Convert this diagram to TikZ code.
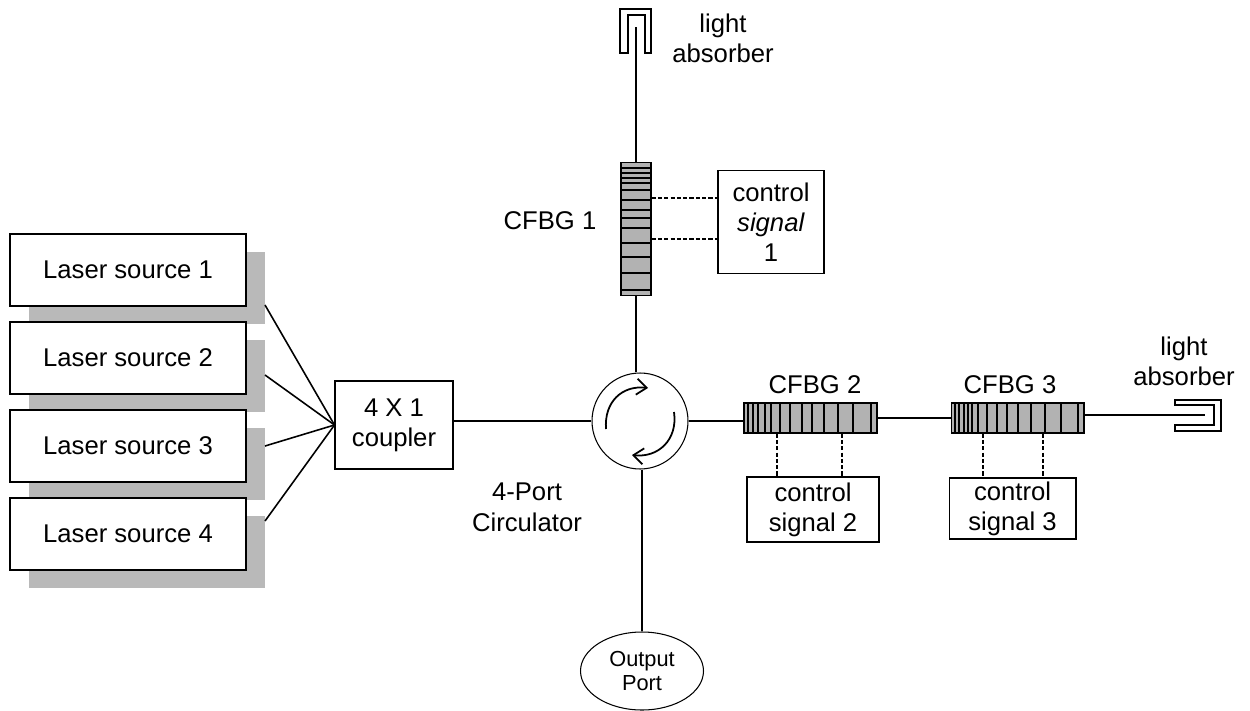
\documentclass[tikz,border=0pt]{standalone}
\usepackage{fontspec}
\setmainfont{Liberation Sans}
\usetikzlibrary{shapes.geometric, arrows.meta}
\tikzset{
    box/.style={draw, fill=white, semithick, align=center, inner sep=0pt, font=\fontsize{14.6}{17}\selectfont},
    laser/.style={box, minimum width=4.72cm, minimum height=1.44cm},
    lasershadow/.style={fill=gray!55, inner sep=0pt, minimum width=4.74cm, minimum height=1.44cm},
    signalbox/.style={box},
    grating/.style={draw, fill=gray!60, semithick, inner sep=0pt},
    stripe/.style={line width=0.8pt},
    caption/.style={align=center, inner sep=0pt, font=\fontsize{14.6}{17}\selectfont},
    fiber/.style={line width=0.9pt},
    turn/.style={line width=1pt, -{Straight Barb[length=2mm, width=3.2mm]}},
    ctrl/.style={line width=0.9pt, dash pattern=on 2.4pt off 1.2pt}
}
\begin{document}
\begin{tikzpicture}[x=0.02cm, y=-0.02cm]
    \useasboundingbox (0, 0) rectangle (1250, 710);

    % laser sources
    \foreach \i/\y in {1/270, 2/358, 3/446, 4/534} {
        \node [lasershadow] (shadow\i) at (147, \y+18) {};
        \node [laser] (laser\i) at (128, \y) {Laser source \i};
    }
    \node [box, minimum width=2.36cm, minimum height=1.76cm] (coupler) at (394, 425) {4 X 1\\coupler};
    \coordinate (tap1) at (265, 305);
    \coordinate (tap2) at (265, 375);
    \coordinate (tap3) at (265, 446);
    \coordinate (tap4) at (265, 521);
    \foreach \i in {1, 2, 3, 4}
        \draw [fiber] (tap\i) -- (coupler.west);

    % circulator
    \node [draw, circle, semithick, minimum size=1.92cm, inner sep=0pt] (circ) at (640, 421) {};
    \draw [turn] (606, 429) .. controls (604, 402) and (622, 385) .. (648, 388);
    \draw [turn] (674, 412) .. controls (678, 440) and (658, 458) .. (632, 455);
    \node [caption, font=\fontsize{14.6}{17.5}\selectfont] (circlabel) at (527, 507) {4-Port\\Circulator};
    \draw [fiber] (coupler.east |- circ.west) -- (circ.west);

    % output port
    \node [draw, ellipse, semithick, minimum width=2.46cm, minimum height=1.56cm, inner sep=0pt, align=center,
        font=\fontsize{12.4}{14.2}\selectfont] (output) at (642, 671) {Output\\Port};
    \draw [fiber] (output.north |- circ.south) -- (output.north);

    % gratings
    \node [grating, minimum width=0.6cm, minimum height=2.66cm] (cfbg1) at (636, 229) {};
    \foreach \y in {168, 173, 178, 183, 190, 200, 210, 218, 228, 243, 257, 273, 290}
        \draw [stripe] (cfbg1.west |- 0, \y) -- (cfbg1.east |- 0, \y);
    \node [grating, minimum width=2.66cm, minimum height=0.6cm] (cfbg2) at (810.5, 418) {};
    \foreach \x in {748, 753, 758, 765, 771, 780, 790, 802, 812, 824, 838, 853, 871}
        \draw [stripe] (\x, 0 |- cfbg2.north) -- (\x, 0 |- cfbg2.south);
    \node [grating, minimum width=2.66cm, minimum height=0.6cm] (cfbg3) at (1017.5, 418) {};
    \foreach \x in {955, 959, 964, 968, 972, 978, 987, 997, 1007, 1018, 1031, 1045, 1061, 1078}
        \draw [stripe] (\x, 0 |- cfbg3.north) -- (\x, 0 |- cfbg3.south);
    \node [caption] (cfbg1label) at (550, 221) {CFBG 1};
    \node [caption] (cfbg2label) at (815, 385) {CFBG 2};
    \node [caption] (cfbg3label) at (1010, 385) {CFBG 3};

    \draw [fiber] (cfbg1.south) -- (cfbg1.south |- circ.north);
    \draw [fiber] (circ.east) -- (cfbg2.west |- circ.east);
    \draw [fiber] (cfbg2.east) -- (cfbg3.west);

    % control signals
    \node [signalbox, minimum width=2.12cm, minimum height=2.06cm] (signal1) at (771, 222) {control\\\textit{signal}\\1};
    \node [signalbox, minimum width=2.64cm, minimum height=1.3cm] (signal2) at (813, 509.5) {control\\signal 2};
    \node [signalbox, minimum width=2.54cm, minimum height=1.22cm] (signal3) at (1012.5, 508.5) {control\\signal 3};
    \foreach \y in {198, 239}
        \draw [ctrl] (cfbg1.east |- 0, \y) -- (signal1.west |- 0, \y);
    \foreach \x in {777, 842}
        \draw [ctrl] (\x, 0 |- cfbg2.south) -- (\x, 0 |- signal2.north);
    \foreach \x in {983, 1043}
        \draw [ctrl] (\x, 0 |- cfbg3.south) -- (\x, 0 |- signal3.north);

    % light absorbers
    \draw [semithick] (620, 53) -- (620, 9) -- (651, 9) -- (651, 53) -- (645, 53) -- (645, 15) -- (628, 15) -- (628, 53) -- cycle;
    \coordinate (tip1) at (636, 27);
    \draw [fiber] (tip1) -- (cfbg1.north);
    \node [caption] (absorber1) at (723, 38) {light\\absorber};
    \draw [semithick] (1175, 400) -- (1221, 400) -- (1221, 431) -- (1175, 431) -- (1175, 425) -- (1214, 425) -- (1214, 405) -- (1175, 405) -- cycle;
    \coordinate (tip2) at (1205, 415);
    \draw [fiber] (cfbg3.east |- tip2) -- (tip2);
    \node [caption] (absorber2) at (1184, 361) {light\\absorber};
\end{tikzpicture}
\end{document}
